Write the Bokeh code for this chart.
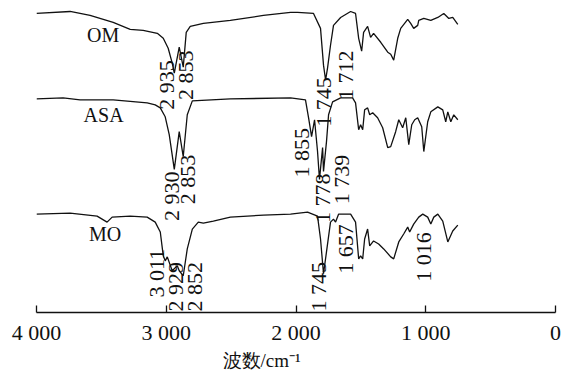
import math
from bokeh.plotting import figure
from bokeh.models import Range1d, FixedTicker, Title, ColumnDataSource
from bokeh.core.properties import value
from bokeh.embed import file_html
from bokeh.resources import INLINE

# ---- data (wavenumber in cm^-1, transmittance in arbitrary units, stacked) ----
om_wn = [4000, 3741, 3587, 3409, 3278, 3178, 3069, 3023, 2985, 2954, 2938, 2900, 2869, 2846,
         2815, 2714, 2506, 2251, 2042, 1988, 1865, 1811, 1788, 1772, 1757, 1734, 1711, 1656,
         1579, 1541, 1517, 1494, 1479, 1448, 1425, 1402, 1347, 1293, 1270, 1247, 1216, 1193,
         1139, 1116, 1093, 1062, 1054, 1015, 961, 907, 861, 822, 792, 753]
om_t = [301, 303, 299, 292, 285, 284, 281, 276, 266, 251, 241, 267, 247, 282,
        288, 291, 294, 299, 302, 302, 301, 286, 249, 234, 246, 269, 289, 297,
        303, 301, 276, 263, 282, 288, 277, 281, 272, 262, 260, 254, 276, 286,
        295, 291, 286, 289, 294, 296, 294, 297, 301, 296, 297, 290]

asa_wn = [4000, 3795, 3664, 3409, 3147, 3085, 3046, 3008, 2977, 2938, 2900, 2869, 2838, 2799,
          2506, 2042, 1927, 1903, 1880, 1857, 1834, 1819, 1795, 1788, 1765, 1749, 1718, 1656,
          1564, 1541, 1517, 1502, 1486, 1471, 1448, 1432, 1409, 1371, 1332, 1293, 1270, 1232,
          1208, 1178, 1154, 1131, 1108, 1085, 1062, 1031, 1015, 985, 961, 907, 869, 846, 830,
          807, 784, 753]
asa_t = [215, 216, 214, 214, 211, 209, 206, 197, 179, 144, 182, 157, 199, 213,
         215, 216, 214, 196, 177, 194, 162, 134, 166, 142, 172, 199, 212, 216,
         216, 211, 184, 189, 184, 204, 206, 199, 201, 196, 186, 166, 167, 182,
         194, 186, 196, 169, 189, 194, 196, 187, 162, 192, 202, 207, 204, 192, 202,
         192, 199, 194]

mo_wn = [4000, 3741, 3533, 3456, 3417, 3278, 3147, 3085, 3046, 3023, 3008, 2992, 2954, 2915,
         2900, 2869, 2838, 2799, 2753, 2714, 2637, 2506, 2251, 2042, 1911, 1834, 1811, 1788,
         1765, 1734, 1711, 1695, 1672, 1579, 1541, 1517, 1502, 1486, 1471, 1448, 1432, 1402,
         1363, 1324, 1270, 1247, 1208, 1170, 1139, 1124, 1093, 1054, 1023, 985, 961, 938, 907,
         869, 830, 792, 753]
mo_t = [99, 100, 97, 91, 96, 97, 96, 91, 81, 57, 52, 56, 42, 47,
        42, 37, 64, 84, 91, 90, 92, 96, 98, 99, 101, 97, 74, 39,
        61, 91, 94, 91, 99, 99, 91, 54, 57, 54, 74, 84, 67, 72,
        69, 64, 56, 54, 71, 79, 86, 81, 89, 96, 99, 96, 89, 96, 99,
        92, 71, 82, 88]

series_names = ["OM", "ASA", "MO"]
name_wn = [3486, 3483, 3471]
name_t = [279, 199, 79]

peak_text = ["2 935", "2 853", "1 745", "1 712",
             "2 930", "2 853", "1 855", "1 778", "1 739",
             "3 011", "2 929", "2 852", "1 745", "1 657", "1 016"]
peak_wn = [3000, 2849, 1788, 1622,
           2961, 2834, 1955, 1799, 1649,
           3073, 2930, 2780, 1830, 1618, 1019]
peak_t = [204, 214, 187, 214,
          92, 109, 136, 90, 109,
          15, 1, 1, 1, 39, 31]

tick_values = [4000, 3000, 2000, 1000, 0]
tick_labels = ["4 000", "3 000", "2 000", "1 000", "0"]
x_title = "波数/cm⁻¹"

SERIF = "Liberation Serif"
INK = "#111111"

p = figure(width=561, height=370, output_backend="svg", toolbar_location=None,
           x_range=Range1d(4000, 0), y_range=Range1d(0, 306),
           min_border_left=36, min_border_right=6, min_border_top=8, min_border_bottom=56,
           y_axis_location=None)
p.xgrid.visible = False
p.ygrid.visible = False
p.outline_line_color = None

ax = p.xaxis[0]
ax.ticker = FixedTicker(ticks=tick_values)
ax.major_label_overrides = dict(zip(tick_values, tick_labels))
ax.minor_tick_line_color = None
ax.major_tick_in = 7
ax.major_tick_out = 0
ax.axis_line_width = 1.3
ax.axis_line_color = INK
ax.major_tick_line_color = INK
ax.major_tick_line_width = 1.3
ax.major_label_text_font = SERIF
ax.major_label_text_font_size = "22px"
ax.major_label_text_color = INK
ax.major_label_standoff = 7

for wn, t in [(om_wn, om_t), (asa_wn, asa_t), (mo_wn, mo_t)]:
    p.line(wn, t, line_color=INK, line_width=1.3)

p.text(x=name_wn, y=name_t, text=series_names, text_align="center",
       text_baseline="alphabetic", text_font=value(SERIF), text_font_size="20px",
       text_color=INK)

src = ColumnDataSource(dict(x=peak_wn, y=peak_t, text=peak_text))
p.text(x="x", y="y", text="text", source=src, angle=math.pi / 2,
       text_align="left", text_baseline="middle", text_font=value(SERIF),
       text_font_size="22px", text_color=INK)

p.add_layout(Title(text=x_title, align="left", offset=186, standoff=0,
                   text_font=SERIF, text_font_size="19px", text_font_style="normal",
                   text_color=INK), "below")

open("out.html", "w").write(file_html(p, INLINE))
